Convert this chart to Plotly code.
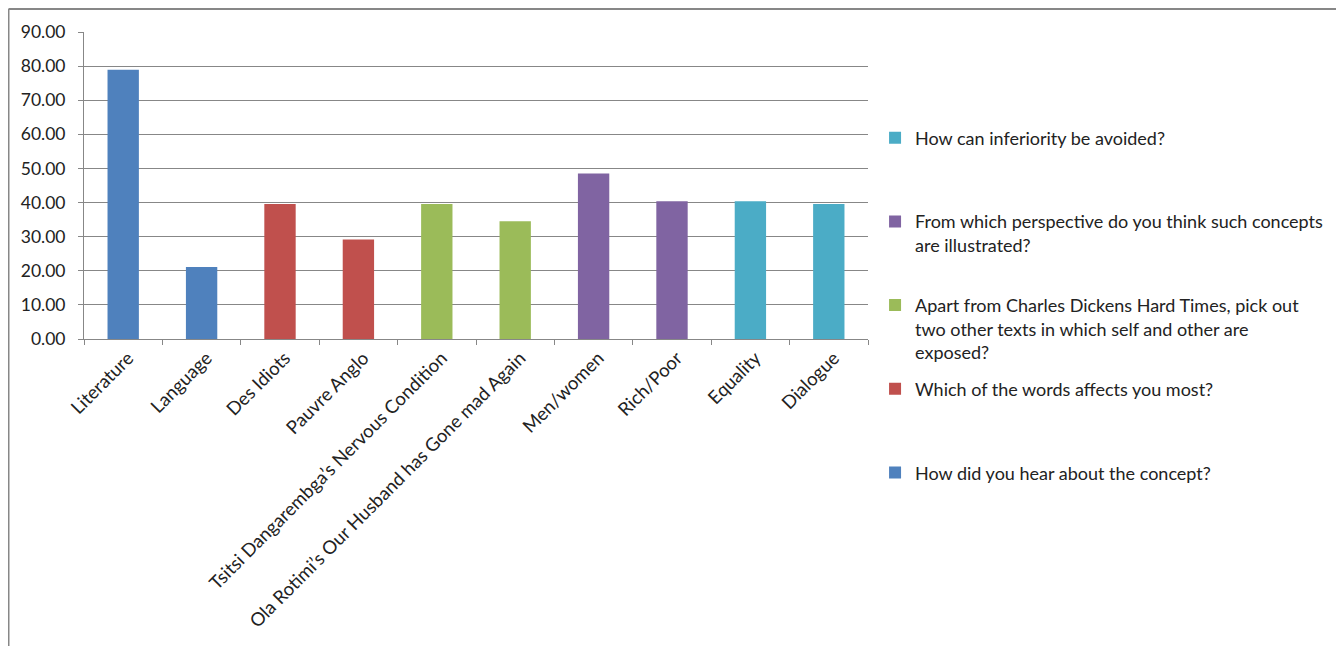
import plotly.graph_objects as go

categories = ["Literature", "Language", "Des Idiots", "Pauvre Anglo",
              "Tsitsi Dangarembga’s Nervous Condition",
              "Ola Rotimi’s Our Husband has Gone mad Again",
              "Men/women", "Rich/Poor", "Equality", "Dialogue"]

series_names = ["How did you hear about the concept?",
                "Which of the words affects you most?",
                "Apart from Charles Dickens Hard Times, pick out<br>two other texts in which self and other are<br>exposed?",
                "From which perspective do you think such concepts<br>are illustrated?",
                "How can inferiority be avoided?"]
series_cats = [categories[0:2], categories[2:4], categories[4:6], categories[6:8], categories[8:10]]
series_vals = [[78.9, 21.1], [39.6, 29.2], [39.6, 34.5], [48.5, 40.4], [40.4, 39.6]]
colors = ["#4F81BD", "#C0504D", "#9BBB59", "#8064A2", "#4BACC6"]

y_ticks = [0, 10, 20, 30, 40, 50, 60, 70, 80, 90]

fig = go.Figure()
# legend lists the series from last to first, as in the reference
for name, cats, vals, col in reversed(list(zip(series_names, series_cats, series_vals, colors))):
    lines = name.count("<br>") + 1
    label = name + "<br>&nbsp;" * (3 - lines)
    fig.add_trace(go.Bar(x=cats, y=vals, name=label, marker_color=col,
                         marker_line_width=0, width=0.4, legendgroup=name))

fig.update_layout(
    width=1336, height=638,
    paper_bgcolor="white", plot_bgcolor="white",
    margin=dict(l=76, r=476, t=24, b=307),
    barmode="overlay",
    font=dict(family="Lato, Noto Sans, sans-serif", size=18, color="#222"),
    legend=dict(x=1.009, y=0.715, xanchor="left", yanchor="top",
                traceorder="grouped", valign="top", maxheight=600,
                font=dict(size=18, color="#222"), tracegroupgap=10.5,
                itemwidth=30, bgcolor="rgba(0,0,0,0)"),
    showlegend=True,
)
fig.update_xaxes(type="category", categoryorder="array", categoryarray=categories,
                 tickangle=-45, showline=True, linecolor="#878787", linewidth=1,
                 ticks="outside", tickson="boundaries", ticklen=5, tickcolor="#878787",
                 showgrid=False, tickfont=dict(size=18.5), ticklabelshift=5)
fig.update_yaxes(range=[0, 90], tickvals=y_ticks, ticktext=[f"{v:.2f}" for v in y_ticks],
                 showline=True, linecolor="#878787", linewidth=1,
                 ticks="outside", ticklen=5, tickcolor="#878787",
                 showgrid=True, gridcolor="#878787", gridwidth=1,
                 zeroline=False, tickfont=dict(size=17.5), ticklabelstandoff=9)

# chart area border
fig.add_shape(type="line", xref="paper", yref="paper", x0=-0.0963, x1=-0.0963, y0=-1.2, y1=1.0749,
              line=dict(color="#878787", width=2))
fig.add_shape(type="line", xref="paper", yref="paper", x0=-0.0963, x1=1.8, y0=1.0749, y1=1.0749,
              line=dict(color="#878787", width=2))

fig.write_html("out.html")
